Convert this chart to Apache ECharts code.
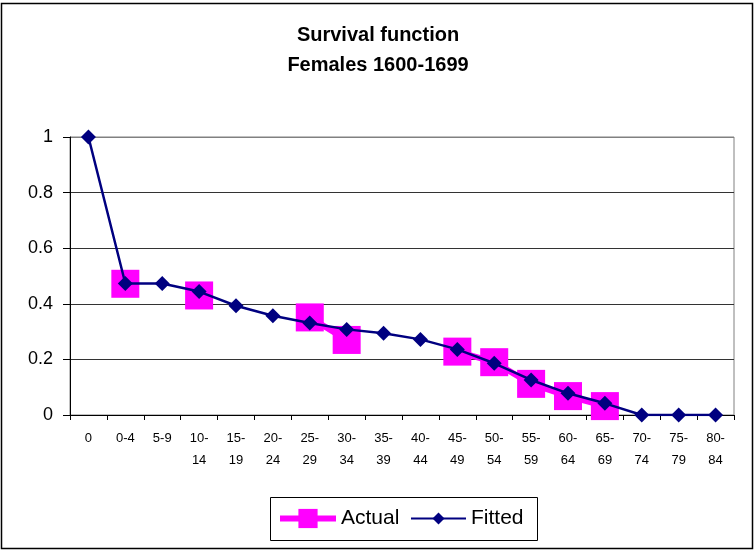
<!DOCTYPE html>
<html>
<head>
<meta charset="utf-8">
<script src="https://cdn.jsdelivr.net/npm/echarts@6/dist/echarts.min.js"></script>
<style>html,body{margin:0;padding:0;background:#fff}#c{width:756px;height:550px}</style>
</head>
<body>
<div id="c"></div>
<script>
var categories = ['0','0-4','5-9','10-14','15-19','20-24','25-29','30-34','35-39','40-44','45-49','50-54','55-59','60-64','65-69','70-74','75-79','80-84'];
var actual = [null,0.472,null,0.43,null,null,0.351,0.27,null,null,0.228,0.19,0.112,0.068,0.032,null,null,null];
var fitted = [1,0.473,0.473,0.444,0.393,0.357,0.331,0.308,0.294,0.272,0.236,0.186,0.126,0.078,0.042,0,0,0];
var yTicks = [0,0.2,0.4,0.6,0.8,1];

var FONT = 'Arial, "Liberation Sans", sans-serif';
var chart = echarts.init(document.getElementById('c'));
chart.setOption({
  animation: false,
  backgroundColor: '#fff',
  title: {
    text: 'Survival function\nFemales 1600-1699',
    left: 'center',
    top: 15,
    textStyle: {fontFamily: FONT, fontSize: 20, fontWeight: 'bold', color: '#000', lineHeight: 30}
  },
  grid: {left: 70, right: 22, top: 137, bottom: 135, show: true, borderColor: '#808080', borderWidth: 1, backgroundColor: 'transparent'},
  legend: [{
    data: ['Actual'],
    left: 272, top: 503,
    itemWidth: 56, itemHeight: 24,
    lineStyle: {width: 6},
    textStyle: {fontFamily: FONT, fontSize: 21, color: '#000'}
  }, {
    data: ['Fitted'],
    left: 405, top: 503,
    itemWidth: 55, itemHeight: 15,
    lineStyle: {width: 2},
    textStyle: {fontFamily: FONT, fontSize: 21, color: '#000'}
  }],
  xAxis: {
    type: 'category',
    data: categories,
    boundaryGap: true,
    axisLine: {show: true, lineStyle: {color: '#000', width: 1}},
    axisTick: {show: true, length: 5, lineStyle: {color: '#000'}},
    axisLabel: {
      interval: 0, margin: 12, color: '#000', fontFamily: FONT, fontSize: 13, lineHeight: 22,
      formatter: function (v) { return v.length > 3 ? v.replace('-', '-\n') : v; }
    },
    splitLine: {show: false}
  },
  yAxis: {
    type: 'value',
    min: yTicks[0], max: yTicks[yTicks.length - 1], interval: 0.2,
    axisLine: {show: true, lineStyle: {color: '#000', width: 1}},
    axisTick: {show: true, length: 7, lineStyle: {color: '#000'}},
    axisLabel: {margin: 17, color: '#000', fontFamily: FONT, fontSize: 18,
      formatter: function (v) { return String(Math.round(v * 10) / 10); }},
    splitLine: {show: true, lineStyle: {color: ['#333', '#333', '#333', '#333', '#333', '#808080'], width: 1}}
  },
  series: [{
    name: 'Actual',
    type: 'line',
    data: actual,
    connectNulls: false,
    symbol: 'rect',
    symbolSize: 28,
    showAllSymbol: true,
    itemStyle: {color: '#FF00FF'},
    lineStyle: {color: '#FF00FF', width: 6},
    z: 2
  }, {
    name: 'Fitted',
    type: 'line',
    data: fitted,
    symbol: 'diamond',
    symbolSize: 15,
    showAllSymbol: true,
    itemStyle: {color: '#000080'},
    lineStyle: {color: '#000080', width: 2.5},
    z: 3
  }],
  graphic: [{
    type: 'rect', silent: true, z: -1,
    shape: {x: 270.5, y: 497.5, width: 267, height: 43},
    style: {fill: '#fff', stroke: '#000', lineWidth: 1}
  }, {
    type: 'rect', silent: true, z: -2,
    shape: {x: 1.5, y: 3.5, width: 751, height: 545},
    style: {fill: 'none', stroke: '#000', lineWidth: 1.5}
  }]
});
</script>
</body>
</html>
